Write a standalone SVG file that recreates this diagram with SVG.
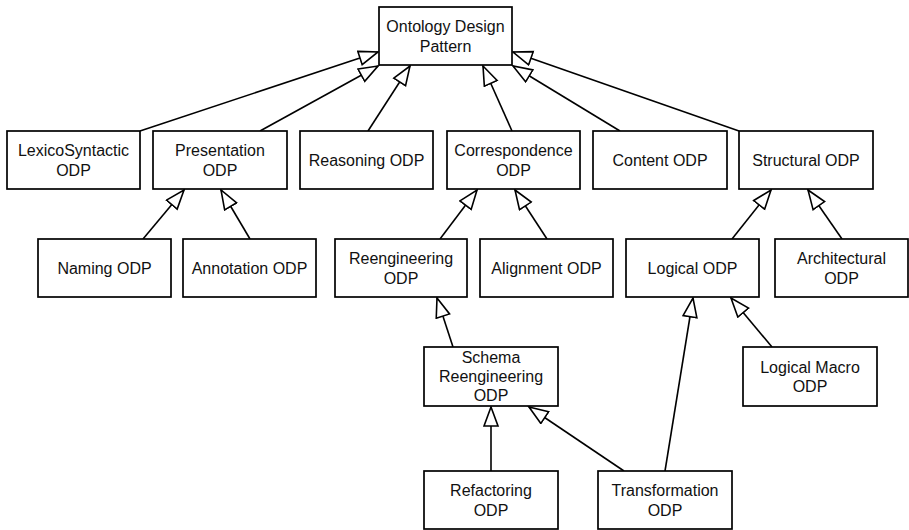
<svg xmlns="http://www.w3.org/2000/svg" width="909" height="530" viewBox="0 0 909 530">
<style>
.b{fill:#fff;stroke:#000;stroke-width:1.7}
.t{font-family:"Liberation Sans",Arial,sans-serif;font-size:16px;fill:#111;text-anchor:middle}
.c line{stroke:#000;stroke-width:1.6;marker-end:url(#tri)}
</style>
<defs>
<marker id="tri" markerUnits="userSpaceOnUse" markerWidth="22" markerHeight="18" viewBox="0 0 22 18" refX="20" refY="8" orient="auto">
<path d="M1,1 L20,8 L1,15 Z" fill="#fff" stroke="#000" stroke-width="1.6"/>
</marker>
</defs>
<rect width="909" height="530" fill="#fff"/>
<g id="connectors" class="c">
<line x1="140" y1="131" x2="378" y2="52"/>
<line x1="260" y1="131" x2="378" y2="66"/>
<line x1="368" y1="131" x2="410" y2="66"/>
<line x1="512" y1="131" x2="483" y2="66"/>
<line x1="620" y1="131" x2="513" y2="66"/>
<line x1="739" y1="131" x2="513" y2="52"/>
<line x1="143" y1="239" x2="184" y2="190"/>
<line x1="250" y1="239" x2="221" y2="190"/>
<line x1="440" y1="239" x2="477" y2="190"/>
<line x1="547" y1="239" x2="515" y2="190"/>
<line x1="732" y1="239" x2="771" y2="190"/>
<line x1="842" y1="239" x2="808" y2="190"/>
<line x1="453" y1="347" x2="437" y2="298"/>
<line x1="772" y1="347" x2="731" y2="298"/>
<line x1="665" y1="471" x2="693" y2="298"/>
<line x1="624" y1="471" x2="529" y2="407"/>
<line x1="491" y1="471" x2="491" y2="407"/>
</g>
<g id="odp"><rect class="b" x="379" y="7" width="133" height="58"/><text class="t" x="445.5" y="32">Ontology Design</text><text class="t" x="445.5" y="51.5">Pattern</text></g>
<g id="lexico"><rect class="b" x="7" y="131" width="133" height="58"/><text class="t" x="73.5" y="156">LexicoSyntactic</text><text class="t" x="73.5" y="175.5">ODP</text></g>
<g id="presentation"><rect class="b" x="153" y="131" width="134" height="58"/><text class="t" x="220" y="156">Presentation</text><text class="t" x="220" y="175.5">ODP</text></g>
<g id="reasoning"><rect class="b" x="300" y="131" width="133" height="58"/><text class="t" x="366.5" y="165.8">Reasoning ODP</text></g>
<g id="correspondence"><rect class="b" x="447" y="131" width="133" height="58"/><text class="t" x="513.5" y="156">Correspondence</text><text class="t" x="513.5" y="175.5">ODP</text></g>
<g id="content"><rect class="b" x="593" y="131" width="134" height="58"/><text class="t" x="660" y="165.8">Content ODP</text></g>
<g id="structural"><rect class="b" x="739" y="131" width="134" height="58"/><text class="t" x="806" y="165.8">Structural ODP</text></g>
<g id="naming"><rect class="b" x="38" y="239" width="133" height="58"/><text class="t" x="104.5" y="273.8">Naming ODP</text></g>
<g id="annotation"><rect class="b" x="183" y="239" width="133" height="58"/><text class="t" x="249.5" y="273.8">Annotation ODP</text></g>
<g id="reengineering"><rect class="b" x="335" y="239" width="132" height="58"/><text class="t" x="401" y="264">Reengineering</text><text class="t" x="401" y="283.5">ODP</text></g>
<g id="alignment"><rect class="b" x="480" y="239" width="133" height="58"/><text class="t" x="546.5" y="273.8">Alignment ODP</text></g>
<g id="logical"><rect class="b" x="626" y="239" width="133" height="58"/><text class="t" x="692.5" y="273.8">Logical ODP</text></g>
<g id="architectural"><rect class="b" x="775" y="239" width="133" height="58"/><text class="t" x="841.5" y="264">Architectural</text><text class="t" x="841.5" y="283.5">ODP</text></g>
<g id="schema"><rect class="b" x="424" y="347" width="134" height="59"/><text class="t" x="491" y="363.3">Schema</text><text class="t" x="491" y="382.3">Reengineering</text><text class="t" x="491" y="401.3">ODP</text></g>
<g id="logicalmacro"><rect class="b" x="743" y="347" width="134" height="59"/><text class="t" x="810" y="372.5">Logical Macro</text><text class="t" x="810" y="392">ODP</text></g>
<g id="refactoring"><rect class="b" x="424" y="471" width="134" height="58"/><text class="t" x="491" y="496">Refactoring</text><text class="t" x="491" y="515.5">ODP</text></g>
<g id="transformation"><rect class="b" x="598" y="471" width="134" height="58"/><text class="t" x="665" y="496">Transformation</text><text class="t" x="665" y="515.5">ODP</text></g>
</svg>
